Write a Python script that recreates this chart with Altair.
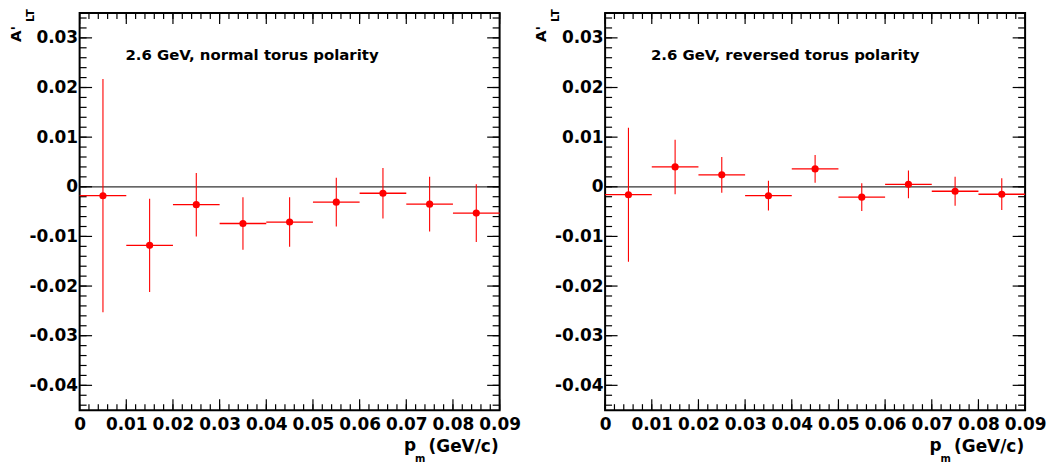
import altair as alt
import pandas as pd

# ---- data ----
bin_lo = [0.00, 0.01, 0.02, 0.03, 0.04, 0.05, 0.06, 0.07, 0.08]
bin_hi = [0.01, 0.02, 0.03, 0.04, 0.05, 0.06, 0.07, 0.08, 0.09]
bin_center = [0.005, 0.015, 0.025, 0.035, 0.045, 0.055, 0.065, 0.075, 0.085]

normal_vals = [-0.0018, -0.0118, -0.0036, -0.0074, -0.0071, -0.0031, -0.0013, -0.0035, -0.0053]
normal_errs = [0.0235, 0.0094, 0.0064, 0.0053, 0.0050, 0.0049, 0.0051, 0.0055, 0.0058]

reversed_vals = [-0.0016, 0.0040, 0.0024, -0.0018, 0.0036, -0.0021, 0.0005, -0.0009, -0.0015]
reversed_errs = [0.0135, 0.0055, 0.0036, 0.0030, 0.0028, 0.0028, 0.0028, 0.0029, 0.0032]

panel_titles = ["2.6 GeV, normal torus polarity", "2.6 GeV, reversed torus polarity"]

x_tick_labels = [0, 0.01, 0.02, 0.03, 0.04, 0.05, 0.06, 0.07, 0.08, 0.09]
y_tick_labels = [-0.04, -0.03, -0.02, -0.01, 0, 0.01, 0.02, 0.03]
x_minor_ticks = [round(i * 0.002, 3) for i in range(46)]
y_minor_ticks = [round(-0.044 + i * 0.002, 3) for i in range(40)]

x_domain = [0, 0.09]
y_domain = [-0.045, 0.035]

# ---- style ----
W, H = 422, 399
FONT = "DejaVu Sans"
RED = "#ff0000"
LABEL_EXPR = "datum.value == 0 ? '0' : (datum.value < 0 ? '-' : '') + format(abs(datum.value), '.2f')"

xs = alt.Scale(domain=x_domain, nice=False, zero=False)
ys = alt.Scale(domain=y_domain, nice=False, zero=False)

x_axis = alt.Axis(values=x_tick_labels, title=None, ticks=False, tickSize=0, domain=False,
                  grid=False, labelFont=FONT, labelFontSize=17, labelFontWeight="bold",
                  labelColor="black", labelPadding=6, labelFlush=False, labelOverlap=False,
                  labelExpr=LABEL_EXPR)
y_axis = alt.Axis(values=y_tick_labels, title=None, ticks=False, tickSize=0, domain=False,
                  grid=False, labelFont=FONT, labelFontSize=17, labelFontWeight="bold",
                  labelColor="black", labelPadding=2, labelOverlap=False,
                  labelExpr=LABEL_EXPR)


def X(field):
    return alt.X(field, type="quantitative", scale=xs, axis=x_axis)


def Y(field):
    return alt.Y(field, type="quantitative", scale=ys, axis=y_axis)


def tick_layers():
    xmaj = pd.DataFrame({"v": x_tick_labels})
    xmin = pd.DataFrame({"v": x_minor_ticks})
    ymaj = pd.DataFrame({"v": y_tick_labels})
    ymin = pd.DataFrame({"v": y_minor_ticks})
    layers = []
    for df, ln in ((xmaj, 11), (xmin, 6)):
        c = alt.Chart(df).mark_rule(color="black", strokeWidth=1.2)
        layers.append(c.encode(x=X("v"), y=alt.value(H - ln), y2=alt.value(H)))
        layers.append(c.encode(x=X("v"), y=alt.value(0), y2=alt.value(ln)))
    for df, ln in ((ymaj, 12.5), (ymin, 7)):
        c = alt.Chart(df).mark_rule(color="black", strokeWidth=1.2)
        layers.append(c.encode(y=Y("v"), x=alt.value(0), x2=alt.value(ln)))
        layers.append(c.encode(y=Y("v"), x=alt.value(W - ln), x2=alt.value(W)))
    return layers


def panel(vals, errs, title):
    df = pd.DataFrame({
        "xc": bin_center, "xlo": bin_lo, "xhi": bin_hi, "y": vals, "err": errs,
    })
    df["ylo"] = df["y"] - df["err"]
    df["yhi"] = df["y"] + df["err"]
    base = alt.Chart(df)

    zero = alt.Chart(pd.DataFrame({"z": [0]})).mark_rule(color="#333333", strokeWidth=1.2).encode(
        y=Y("z"), x=alt.value(0), x2=alt.value(W))
    hbar = base.mark_rule(color=RED, strokeWidth=1.3).encode(x=X("xlo"), x2="xhi", y=Y("y"))
    vbar = base.mark_rule(color=RED, strokeWidth=1.1).encode(x=X("xc"), y=Y("ylo"), y2="yhi")
    pts = base.mark_circle(color=RED, size=52, opacity=1).encode(x=X("xc"), y=Y("y"))

    tdf = pd.DataFrame({"t": [title]})
    ttl = alt.Chart(tdf).mark_text(font=FONT, fontSize=15, fontWeight="bold", color="black",
                                   align="left", baseline="alphabetic").encode(
        text="t:N", x=alt.value(46), y=alt.value(47))

    ya = alt.Chart(pd.DataFrame({"t": ["A'"]})).mark_text(
        font=FONT, fontSize=15, fontWeight="bold", color="black", angle=270,
        align="left", baseline="alphabetic").encode(text="t:N", x=alt.value(-59), y=alt.value(29))
    ylt = alt.Chart(pd.DataFrame({"t": ["LT"]})).mark_text(
        font=FONT, fontSize=11, fontWeight="bold", color="black", angle=270,
        align="left", baseline="alphabetic").encode(text="t:N", x=alt.value(-46), y=alt.value(9))

    xp = alt.Chart(pd.DataFrame({"t": ["p"]})).mark_text(
        font=FONT, fontSize=17, fontWeight="bold", color="black",
        align="left", baseline="alphabetic").encode(text="t:N", x=alt.value(326), y=alt.value(440))
    xm = alt.Chart(pd.DataFrame({"t": ["m"]})).mark_text(
        font=FONT, fontSize=10, fontWeight="bold", color="black",
        align="left", baseline="alphabetic").encode(text="t:N", x=alt.value(337), y=alt.value(451))
    xu = alt.Chart(pd.DataFrame({"t": ["(GeV/c)"]})).mark_text(
        font=FONT, fontSize=17, fontWeight="bold", color="black",
        align="right", baseline="alphabetic").encode(text="t:N", x=alt.value(W - 1), y=alt.value(441))

    return alt.layer(zero, *tick_layers(), hbar, vbar, pts, ttl, ya, ylt, xp, xm, xu).properties(
        width=W, height=H)


left = panel(normal_vals, normal_errs, panel_titles[0])
right = panel(reversed_vals, reversed_errs, panel_titles[1])

chart = alt.HConcatChart(hconcat=[left, right], spacing=106, bounds="flush").properties(
    padding={"left": 8, "top": 7, "right": 0, "bottom": 0},
    background="white",
).configure_view(stroke="black", strokeWidth=2)

chart.save("out.html", embed_options={"renderer": "svg", "actions": False})
